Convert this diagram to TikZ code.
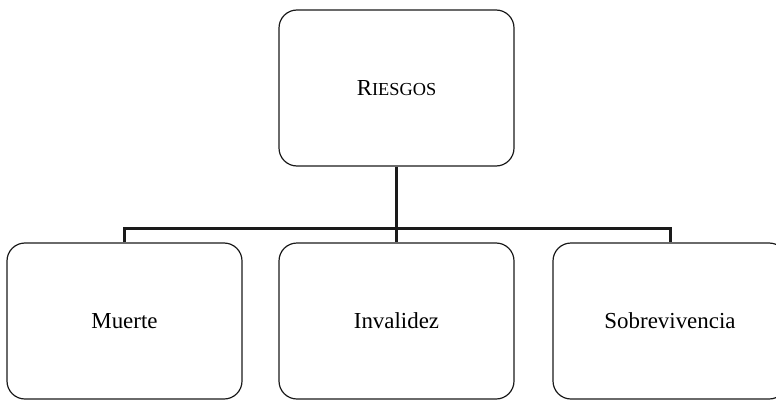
\documentclass[tikz,border=0pt]{standalone}
\usepackage{fontspec}
\setmainfont{Liberation Serif}
\usepackage{xcolor}
\usepackage{tikz}
\definecolor{RLine}{HTML}{1A1A1A}
\newcommand{\fakesc}[2]{#1{\fontsize{18.4}{22}\selectfont #2}}

\begin{document}
\begin{tikzpicture}[x=1bp,y=1bp,
  riskbox/.style={draw=RLine,line width=1.2bp,rounded corners=18bp,minimum width=235bp,minimum height=156bp,inner sep=0pt,font=\fontsize{23}{27}\selectfont},
  risklink/.style={draw=RLine,line width=3bp}]
\path[use as bounding box] (0,0) rectangle (776,399);
\node[riskbox] (riesgos) at (396.5,311.0) {\fakesc{R}{IESGOS}};
\node[riskbox] (muerte) at (124.5,78.0) {Muerte};
\node[riskbox] (invalidez) at (396.5,78.0) {Invalidez};
\node[riskbox,minimum width=234bp] (sobrev) at (670.0,78.0) {Sobrevivencia};
\coordinate (bus) at (396.5,171.0);
\draw[risklink] (riesgos.south) -- (bus);
\draw[risklink] (muerte.north) |- (bus) -| (sobrev.north);
\draw[risklink] (bus) -- (invalidez.north);
\end{tikzpicture}
\end{document}
